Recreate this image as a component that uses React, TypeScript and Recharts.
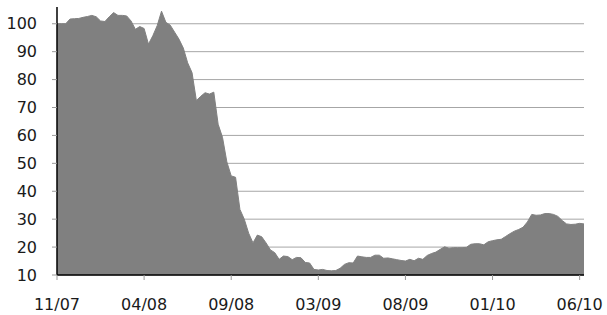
import {Area, AreaChart, CartesianGrid, XAxis, YAxis} from 'recharts'

// index tick positions and their month labels
const tickIdx = [0, 20, 40, 60, 80, 100, 120]
const tickLabels = ['11/07', '04/08', '09/08', '03/09', '08/09', '01/10', '06/10']

// values, roughly one per week
const values = [
    100, 100, 100, 101.7, 101.8, 101.9, 102.3, 102.6, 103, 102.5,
    101, 100.8, 102.5, 104, 103, 103, 102.8, 101, 98, 99,
    98.3, 92.7, 95.7, 99.3, 104.5, 100.5, 99.5, 97, 94.5, 91.3,
    86, 82.5, 72.5, 74, 75.3, 74.8, 75.5, 64, 59.3, 50.5,
    45.5, 45, 33.5, 30, 25, 21.5, 24.3, 23.7, 21.5, 19,
    18, 15.6, 16.8, 16.6, 15.5, 16.3, 16.2, 14.5, 14.3, 12,
    11.8, 12, 11.6, 11.5, 11.6, 12.4, 13.8, 14.4, 14.3, 16.8,
    16.5, 16.3, 16.3, 17.1, 17.1, 16, 16.1, 15.8, 15.5, 15.2,
    15, 15.6, 15.1, 16, 15.6, 17, 17.7, 18.2, 19.2, 20.1,
    19.6, 19.8, 19.8, 19.8, 19.9, 21, 21.2, 21.2, 20.8, 21.9,
    22.3, 22.6, 22.8, 23.8, 24.8, 25.7, 26.3, 27.1, 29, 31.7,
    31.4, 31.5, 32, 32, 31.7, 31, 29.5, 28.3, 28.1, 28.2,
    28.5, 28.3,
]

const yTicks = [10, 20, 30, 40, 50, 60, 70, 80, 90, 100]

const data = values.map((v, i) => ({i, v}))
const labelOf = (i: number) => tickLabels[tickIdx.indexOf(i)] ?? ''

const font = '"DejaVu Sans", Verdana, sans-serif'

export default function App() {
    return (
        <div style={{position: 'absolute', left: 0, top: 0, width: 607, height: 315, background: '#fff'}}>
            <AreaChart width={607} height={315} data={data}
                       margin={{top: 7, right: 23, left: 0, bottom: 0}}>
                <CartesianGrid vertical={false} horizontalValues={yTicks} stroke="#a6a6a6" strokeWidth={1}/>
                <XAxis
                    dataKey="i" type="number" domain={[0, 121]}
                    ticks={tickIdx} interval={0}
                    tickFormatter={labelOf}
                    height={40}
                    tickSize={5} tickMargin={19}
                    tick={{fontSize: 16, fill: '#1a1a1a', fontFamily: font}}
                    axisLine={{stroke: '#000', strokeWidth: 1.5}}
                    tickLine={{stroke: '#999'}}
                />
                <YAxis
                    domain={[10, 106]} ticks={yTicks} interval={0}
                    allowDataOverflow
                    width={57}
                    tickSize={5} tickMargin={15}
                    tick={{fontSize: 16, fill: '#1a1a1a', fontFamily: font}}
                    axisLine={{stroke: '#000', strokeWidth: 1.5}}
                    tickLine={{stroke: '#999'}}
                />
                <Area type="linear" dataKey="v" stroke="#808080" strokeWidth={1}
                      fill="#808080" fillOpacity={1} isAnimationActive={false}/>
            </AreaChart>
        </div>
    )
}
